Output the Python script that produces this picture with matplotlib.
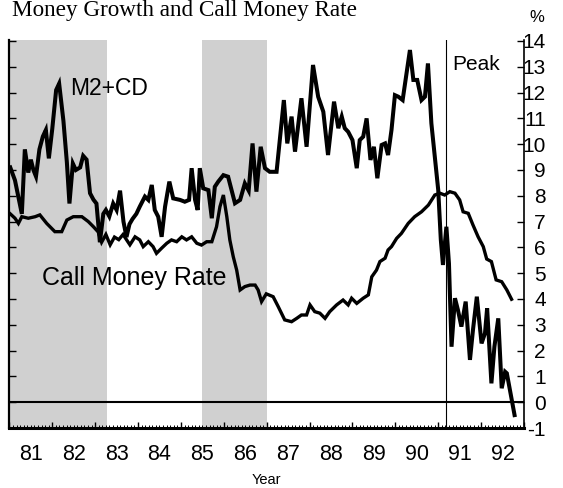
import matplotlib
matplotlib.use("Agg")
import matplotlib.pyplot as plt

# M2+CD growth, %
m2_t = [1981.02, 1981.13, 1981.29, 1981.36, 1981.44, 1981.50, 1981.56, 1981.62, 1981.70, 1981.78,
        1981.85, 1981.92, 1982.00, 1982.09, 1982.16, 1982.26, 1982.34, 1982.40, 1982.48, 1982.55,
        1982.65, 1982.72, 1982.80, 1982.88, 1982.96, 1983.03, 1983.11, 1983.19, 1983.25, 1983.33,
        1983.42, 1983.50, 1983.58, 1983.66, 1983.73, 1983.80, 1983.87, 1983.96, 1984.04, 1984.16,
        1984.24, 1984.32, 1984.39, 1984.47, 1984.55, 1984.63, 1984.73, 1984.82, 1984.98, 1985.09,
        1985.19, 1985.25, 1985.33, 1985.39, 1985.44, 1985.52, 1985.64, 1985.72, 1985.79, 1985.87,
        1985.99, 1986.10, 1986.18, 1986.26, 1986.38, 1986.49, 1986.58, 1986.67, 1986.76, 1986.86,
        1986.96, 1987.07, 1987.23, 1987.40, 1987.48, 1987.58, 1987.66, 1987.73, 1987.81, 1987.93,
        1988.08, 1988.20, 1988.32, 1988.43, 1988.57, 1988.67, 1988.75, 1988.82, 1988.90, 1989.00,
        1989.10, 1989.17, 1989.25, 1989.33, 1989.42, 1989.50, 1989.58, 1989.68, 1989.76, 1989.83,
        1989.91, 1989.99, 1990.07, 1990.17, 1990.25, 1990.34, 1990.42, 1990.51, 1990.61, 1990.69,
        1990.76, 1990.84, 1990.92, 1991.00, 1991.06, 1991.11, 1991.19, 1991.25, 1991.31, 1991.39,
        1991.46, 1991.54, 1991.64, 1991.74, 1991.81, 1991.90, 1992.01, 1992.09, 1992.14, 1992.24,
        1992.31, 1992.40, 1992.48, 1992.56, 1992.60, 1992.78]
m2_v = [9.1, 8.6, 7.3, 9.8, 8.9, 9.4, 9.0, 8.75, 9.8, 10.3,
        10.55, 9.45, 10.6, 12.1, 12.35, 10.9, 9.3, 7.7, 9.25, 9.0,
        9.1, 9.55, 9.4, 8.1, 7.85, 7.7, 6.2, 7.3, 7.45, 7.2,
        7.7, 7.45, 8.2, 7.0, 6.4, 6.9, 7.1, 7.3, 7.58, 7.97,
        7.84, 8.42, 7.45, 7.19, 6.41, 7.58, 8.55, 7.9, 7.84, 7.77,
        7.84, 9.07, 7.84, 7.45, 9.07, 8.29, 8.22, 7.13, 8.35, 8.55,
        8.8, 8.74, 8.22, 7.71, 7.84, 8.48, 8.2, 10.03, 8.16, 9.9,
        9.07, 8.93, 8.93, 11.71, 10.03, 11.07, 9.71, 10.68, 11.78, 9.9,
        13.07, 11.84, 11.26, 9.58, 11.65, 10.62, 11.07, 10.62, 10.48, 10.16,
        9.07, 10.16, 10.29, 11.0, 9.39, 9.9, 8.68, 9.97, 10.03, 9.58,
        10.55, 11.9, 11.84, 11.71, 12.62, 13.65, 12.49, 12.49, 11.71, 11.84,
        13.13, 10.81, 9.52, 8.22, 6.3, 5.32, 6.8, 5.38, 2.15, 4.03,
        3.57, 2.93, 3.9, 1.64, 2.8, 4.09, 2.28, 2.67, 3.64, 0.73,
        2.15, 3.25, 0.54, 1.18, 1.12, -0.5]

# Call money rate, %
call_t = [1981.02, 1981.13, 1981.21, 1981.29, 1981.44, 1981.60, 1981.71, 1981.87, 1982.06, 1982.22,
          1982.34, 1982.49, 1982.69, 1982.84, 1982.96, 1983.07, 1983.15, 1983.25, 1983.35, 1983.45,
          1983.55, 1983.65, 1983.81, 1983.93, 1984.04, 1984.12, 1984.24, 1984.35, 1984.43, 1984.55,
          1984.67, 1984.78, 1984.90, 1985.02, 1985.13, 1985.25, 1985.37, 1985.48, 1985.60, 1985.72,
          1985.83, 1985.91, 1985.99, 1986.07, 1986.14, 1986.22, 1986.30, 1986.38, 1986.49, 1986.61,
          1986.73, 1986.80, 1986.88, 1986.99, 1987.15, 1987.27, 1987.42, 1987.58, 1987.70, 1987.81,
          1987.93, 1988.01, 1988.12, 1988.24, 1988.36, 1988.47, 1988.63, 1988.78, 1988.90, 1988.98,
          1989.10, 1989.25, 1989.37, 1989.45, 1989.56, 1989.64, 1989.76, 1989.83, 1989.91, 1990.03,
          1990.14, 1990.30, 1990.45, 1990.61, 1990.77, 1990.92, 1991.04, 1991.15, 1991.27, 1991.39,
          1991.50, 1991.58, 1991.70, 1991.81, 1991.93, 1992.05, 1992.13, 1992.24, 1992.35, 1992.48,
          1992.60, 1992.71]
call_v = [7.3, 7.13, 6.93, 7.19, 7.13, 7.19, 7.26, 6.93, 6.61, 6.61,
          7.06, 7.19, 7.19, 7.0, 6.8, 6.6, 6.2, 6.5, 6.1, 6.4,
          6.3, 6.5, 6.1, 6.41, 6.29, 6.03, 6.22, 6.03, 5.77, 5.97,
          6.16, 6.29, 6.22, 6.41, 6.29, 6.41, 6.16, 6.09, 6.22, 6.22,
          6.8, 7.58, 8.03, 7.19, 6.29, 5.64, 5.12, 4.35, 4.48, 4.54,
          4.54, 4.35, 3.9, 4.2, 4.09, 3.7, 3.19, 3.12, 3.25, 3.38,
          3.38, 3.77, 3.51, 3.45, 3.25, 3.51, 3.77, 3.96, 3.77, 4.03,
          3.83, 4.03, 4.16, 4.86, 5.12, 5.45, 5.58, 5.9, 6.03, 6.35,
          6.54, 6.93, 7.19, 7.38, 7.64, 8.03, 8.10, 8.03, 8.16, 8.10,
          7.84, 7.38, 7.32, 6.87, 6.41, 6.03, 5.55, 5.45, 4.74, 4.67,
          4.35, 3.99]

years = list(range(1981, 1993))
year_labels = [str(y)[2:] for y in years]
y_ticks = list(range(-1, 15))
recessions = [(1981.0, 1983.27), (1985.5, 1987.0)]
peak = 1991.17

plt.rcParams['font.family'] = ['Liberation Sans', 'DejaVu Sans']
plt.rcParams['axes.unicode_minus'] = False

fig = plt.figure(figsize=(5.63, 4.88), dpi=100)
ax = fig.add_axes([9.4 / 563, 60 / 488, 514.6 / 563, 388.3 / 488])

for a, b in recessions:
    ax.axvspan(a, b, color='#d0d0d0', lw=0, zorder=0)

ax.axhline(0, color='black', lw=1.5, zorder=1)
ax.axvline(peak, color='black', lw=0.8, zorder=1)
ax.plot(call_t, call_v, color='black', lw=2.4, solid_joinstyle='miter', zorder=3)
ax.plot(m2_t, m2_v, color='black', lw=2.9, solid_joinstyle='miter', zorder=3)

ax.set_xlim(1981, 1993)
ax.set_ylim(-1, 14.05)

ax.spines['top'].set_visible(False)
ax.spines['bottom'].set_linewidth(2.2)
ax.spines['left'].set_linewidth(1.6)
ax.spines['right'].set_linewidth(1.2)

ax.set_xticks(years + [1993])
ax.set_xticks([y + m / 12 for y in years for m in range(1, 12)], minor=True)
ax.tick_params(axis='x', which='major', direction='in', length=4, width=1, labelbottom=False)
ax.tick_params(axis='x', which='minor', direction='in', length=2, width=0.7)
for y, lab in zip(years, year_labels):
    ax.text(y + 0.5, -0.068, lab, transform=ax.get_xaxis_transform(),
            ha='center', va='center', fontsize=15.5)
ax.text(0.5, -0.135, 'Year', transform=ax.transAxes, ha='center', va='center', fontsize=10.5)

ax.set_yticks(y_ticks)
ax.tick_params(axis='y', direction='in', length=5, width=1, left=True, right=True,
               labelleft=False, labelright=True, labelsize=15, pad=15.8)
for lab in ax.get_yticklabels():
    lab.set_horizontalalignment('right')

ax.text(1982.42, 12.15, 'M2+CD', fontsize=16.5, ha='left', va='center')
ax.text(1981.75, 4.8, 'Call Money Rate', fontsize=18, ha='left', va='center')
ax.text(peak + 0.15, 13.07, 'Peak', fontsize=15, ha='left', va='center')

fig.text(537 / 563, 1 - 18 / 488, '%', ha='center', va='center', fontsize=12)
fig.text(12 / 563, 1 - 16 / 488, 'Money Growth and Call Money Rate', ha='left',
         va='baseline', fontsize=16.7, family='Liberation Serif')

fig.savefig('out.png', dpi=100)
